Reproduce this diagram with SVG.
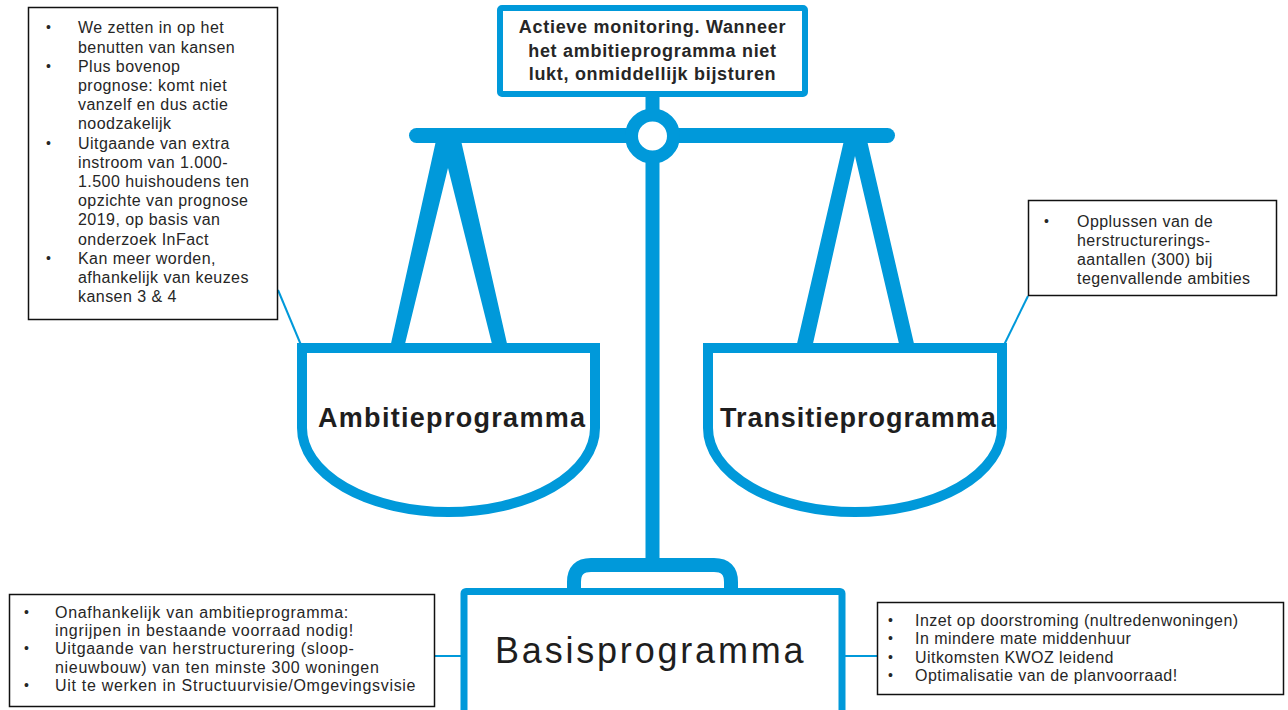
<svg xmlns="http://www.w3.org/2000/svg" width="1288" height="710" viewBox="0 0 1288 710">
<style>
.blue{stroke:#0099DA;fill:none}
.bf{fill:#0099DA}
.pan{stroke:#0099DA;stroke-width:10;fill:#fff}
.box{fill:#fff;stroke:#111;stroke-width:1.5}
.t{font-family:"Liberation Sans",Arial,sans-serif;font-size:16px;fill:#262626;letter-spacing:0.45px}
.tb{font-family:"Liberation Sans",Arial,sans-serif;font-size:18px;font-weight:bold;fill:#262626;letter-spacing:0.7px}
.big{font-family:"Liberation Sans",Arial,sans-serif;font-size:27px;font-weight:bold;fill:#1e1e1e;letter-spacing:1.2px}
.bas{font-family:"Liberation Sans",Arial,sans-serif;font-size:36px;fill:#1e1e1e;letter-spacing:2.8px}
.bul{font-family:"Liberation Sans",Arial,sans-serif;font-size:14px;fill:#262626}
.con{stroke:#0099DA;stroke-width:2;fill:none}
</style>
<rect width="1288" height="710" fill="#fff"/>
<g id="connectors">
<line class="con" x1="278" y1="290" x2="301" y2="345"/>
<line class="con" x1="1028" y1="296" x2="1004" y2="345"/>
<line class="con" x1="435" y1="656" x2="462" y2="656"/>
<line class="con" x1="845" y1="656" x2="877" y2="656"/>
</g>
<g id="scale">
<path class="bf" d="M390,348 L437,136 L460,136 L508,348 L493,348 L448,168 L404,348 Z"/>
<path class="bf" d="M796,348 L845,136 L866,136 L915,348 L900,348 L855,156 L812,348 Z"/>
<line class="blue" x1="416.5" y1="135.5" x2="887.5" y2="135.5" stroke-width="15" stroke-linecap="round"/>
<line class="blue" x1="652.5" y1="94" x2="652.5" y2="140" stroke-width="14"/>
<line class="blue" x1="652.5" y1="140" x2="652.5" y2="566" stroke-width="14"/>
<circle cx="652.5" cy="136" r="21" fill="#fff" stroke="#0099DA" stroke-width="13"/>
<path class="blue" stroke-width="14" d="M574,592 V582 Q574,565 591,565 H714 Q731,565 731,582 V592"/>
</g>
<g id="top-box">
<rect x="500" y="8" width="305" height="86" rx="2" fill="#fff" stroke="#0099DA" stroke-width="6"/>
<text class="tb" x="652.5" y="33.3" text-anchor="middle">Actieve monitoring. Wanneer</text>
<text class="tb" x="652.5" y="56.5" text-anchor="middle">het ambitieprogramma niet</text>
<text class="tb" x="652.5" y="79.5" text-anchor="middle">lukt, onmiddellijk bijsturen</text>
</g>
<g id="ambitie-pan">
<path class="pan" d="M302,348 H595 V428 A146.5,84 0 0 1 302,428 Z"/>
<text class="big" x="318" y="427" style="letter-spacing:1.3px">Ambitieprogramma</text>
</g>
<g id="transitie-pan">
<path class="pan" d="M708,348 H1002 V428 A147,84 0 0 1 708,428 Z"/>
<text class="big" x="720" y="427" style="letter-spacing:0.95px">Transitieprogramma</text>
</g>
<g id="basis-box">
<rect x="464" y="591.5" width="378" height="130" rx="2" fill="#fff" stroke="#0099DA" stroke-width="7"/>
<text class="bas" x="495" y="663">Basisprogramma</text>
</g>
<g id="left-notes">
<rect class="box" x="28.5" y="7.5" width="249" height="312"/>
<text class="bul" x="46" y="32">•</text>
<text class="bul" x="46" y="70.5">•</text>
<text class="bul" x="46" y="147.5">•</text>
<text class="bul" x="46" y="262.5">•</text>
<text class="t" x="78" y="33.3">We zetten in op het</text>
<text class="t" x="78" y="52.5">benutten van kansen</text>
<text class="t" x="78" y="71.7">Plus bovenop</text>
<text class="t" x="78" y="90.9">prognose: komt niet</text>
<text class="t" x="78" y="110.1">vanzelf en dus actie</text>
<text class="t" x="78" y="129.3">noodzakelijk</text>
<text class="t" x="78" y="148.5">Uitgaande van extra</text>
<text class="t" x="78" y="167.7">instroom van 1.000-</text>
<text class="t" x="78" y="186.9">1.500 huishoudens ten</text>
<text class="t" x="78" y="206.1">opzichte van prognose</text>
<text class="t" x="78" y="225.3">2019, op basis van</text>
<text class="t" x="78" y="244.5">onderzoek InFact</text>
<text class="t" x="78" y="263.7">Kan meer worden,</text>
<text class="t" x="78" y="282.9">afhankelijk van keuzes</text>
<text class="t" x="78" y="302.1">kansen 3 &amp; 4</text>
</g>
<g id="right-notes">
<rect class="box" x="1028.5" y="200.5" width="248" height="95"/>
<text class="bul" x="1044" y="225.5">•</text>
<text class="t" x="1077" y="226.7">Opplussen van de</text>
<text class="t" x="1077" y="245.9">herstructurerings-</text>
<text class="t" x="1077" y="265.1">aantallen (300) bij</text>
<text class="t" x="1077" y="284.3">tegenvallende ambities</text>
</g>
<g id="bottom-left-notes">
<rect class="box" x="9.5" y="594.5" width="425" height="112"/>
<text class="bul" x="24" y="616.5">•</text>
<text class="bul" x="24" y="653">•</text>
<text class="bul" x="24" y="689.5">•</text>
<text class="t" x="55" y="617.7" style="letter-spacing:0.7px">Onafhankelijk van ambitieprogramma:</text>
<text class="t" x="55" y="636" style="letter-spacing:0.7px">ingrijpen in bestaande voorraad nodig!</text>
<text class="t" x="55" y="654.3" style="letter-spacing:0.7px">Uitgaande van herstructurering (sloop-</text>
<text class="t" x="55" y="672.6" style="letter-spacing:0.7px">nieuwbouw) van ten minste 300 woningen</text>
<text class="t" x="55" y="690.9" style="letter-spacing:0.7px">Uit te werken in Structuurvisie/Omgevingsvisie</text>
</g>
<g id="bottom-right-notes">
<rect class="box" x="877.5" y="602.5" width="406" height="92"/>
<text class="bul" x="888" y="624.5">•</text>
<text class="bul" x="888" y="643">•</text>
<text class="bul" x="888" y="661.5">•</text>
<text class="bul" x="888" y="680">•</text>
<text class="t" x="915" y="625.7">Inzet op doorstroming (nultredenwoningen)</text>
<text class="t" x="915" y="644.2">In mindere mate middenhuur</text>
<text class="t" x="915" y="662.7">Uitkomsten KWOZ leidend</text>
<text class="t" x="915" y="681.2">Optimalisatie van de planvoorraad!</text>
</g>
</svg>
